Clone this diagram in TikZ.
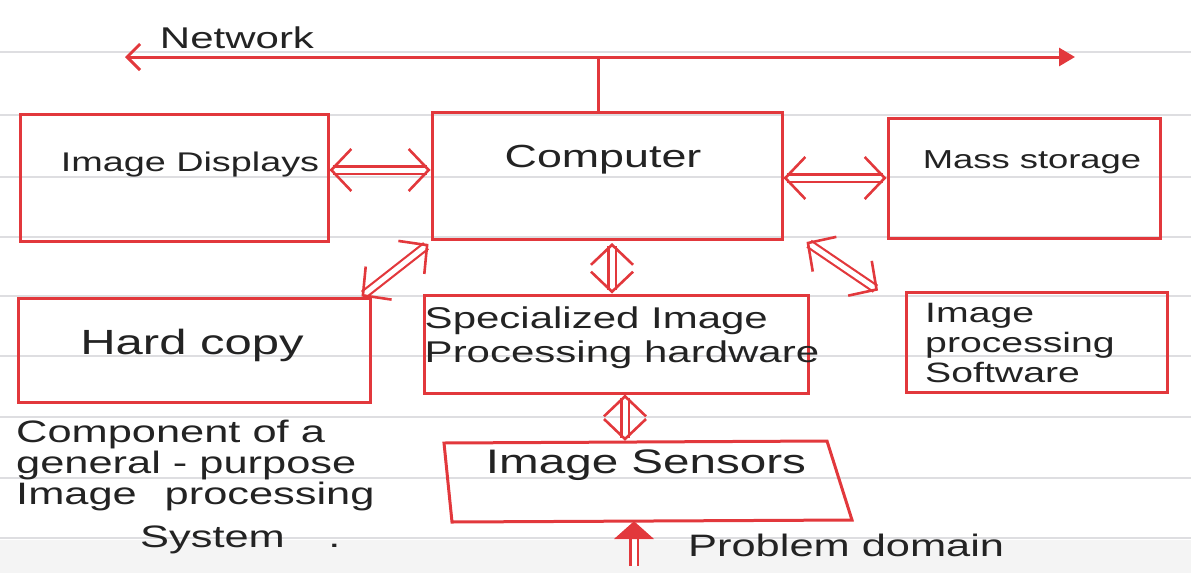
\documentclass[tikz,border=0pt]{standalone}
\usepackage{fontspec}
\setmainfont{Liberation Sans}
\newfontfamily\hand[FakeStretch=1.4]{Liberation Sans}
\usetikzlibrary{arrows.meta,calc}
\definecolor{pen}{RGB}{226,56,60}
\definecolor{ink}{RGB}{35,35,35}
\definecolor{rule}{RGB}{222,222,225}
\tikzset{
  box/.style={draw=pen, line width=3pt, minimum width=#1},
  txt/.style={text=ink, font=\hand\fontsize{#1}{#1}\selectfont, inner sep=0pt},
  dbl/.style={draw=pen, double=white, double distance=5pt, line width=2.2pt,
    {Straight Barb[length=20pt,width=42pt,line width=2.6pt]}-{Straight Barb[length=20pt,width=42pt,line width=2.6pt]}},
  net/.style={draw=pen, line width=3pt}
}
\begin{document}
\begin{tikzpicture}[x=1pt,y=-1pt]
\useasboundingbox (0,0) rectangle (1191,573);
\fill[gray!9] (0,540) rectangle (1191,573);
\foreach \yy in {52,115,177,237,296,356,417,478,538}
  \draw[rule, line width=1.2pt] (0,\yy) -- (1191,\yy);

% boxes
\node[box=308pt, minimum height=127pt] (disp) at (174,178) {};
\node[box=350pt, minimum height=127pt] (comp) at (607,176) {};
\node[box=272pt, minimum height=120pt] (mass) at (1024,178) {};
\node[box=352pt, minimum height=104pt] (hard) at (194,350) {};
\node[box=384pt, minimum height=98pt] (spec) at (616,344) {};
\node[box=261pt, minimum height=100pt] (soft) at (1037,342) {};
\node[minimum width=400pt, minimum height=80pt] (sens) at (645,481) {};
\draw[pen, line width=3pt] (444,443) -- (827,441) -- (852,520) -- (452,522) -- cycle;

% texts
\node[txt=30] (tnet) at (237,38) {Network};
\node[txt=27] (tdisp) at (190,165) {Image Displays};
\node[txt=32] (tcomp) at (603,160) {Computer};
\node[txt=26] (tmass) at (1032,162) {Mass storage};
\node[txt=35] (thard) at (192,345) {Hard copy};
\node[txt=30, align=left] (tspec) at (622,338) {Specialized Image\\[4pt]Processing hardware};
\node[txt=28, align=left, anchor=west] (tsoft) at (925,343) {Image\\[2pt]processing\\[2pt]Software};
\node[txt=34] (tsens) at (646,465) {Image Sensors};
\node[txt=31, align=left, anchor=north west] (tcomp2) at (16,420) {Component of a\\general - purpose\\Image\hspace{0.9em}processing\\[12pt]\hspace*{4em}System\hspace{1.4em}.};
\node[txt=31, anchor=west] (tprob) at (688,545) {Problem domain};

% network
\coordinate (netL) at (125,57);
\coordinate (netR) at (1075,57);
\coordinate (netJ) at (598,57);
\draw[net, {Straight Barb[length=13pt,width=26pt]}-{Triangle[length=16pt,width=18pt]}] (netL) -- (netR);
\draw[net] (netJ) -- (netJ |- comp.north);

% connectors
\draw[dbl] ([yshift=8pt]disp.east) -- ([yshift=6pt]comp.west);
\draw[dbl] ([yshift=-2pt]comp.east) -- ([yshift=0pt]mass.west);
\draw[dbl] ([xshift=-10pt]hard.north east) -- ([xshift=-2pt,yshift=-3pt]comp.south west);
\draw[dbl] ([xshift=5pt,yshift=-2pt]comp.south) -- ([xshift=5pt]comp.south |- spec.north);
\draw[dbl] ([xshift=23pt,yshift=-1pt]comp.south east) -- ([xshift=-27pt]soft.north west);
\draw[dbl] ([xshift=9pt]spec.south) -- ([xshift=9pt]spec.south |- sens.north);
\coordinate (pd) at (634,566);
\draw[draw=pen, double=white, double distance=5pt, line width=2.2pt, -{Triangle[length=18pt,width=40pt]}] (pd) -- (pd |- sens.south);
\end{tikzpicture}
\end{document}
